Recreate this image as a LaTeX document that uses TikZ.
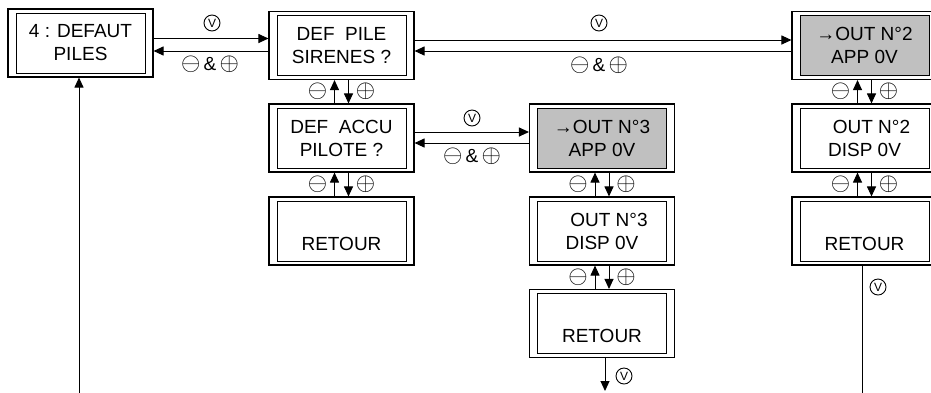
\documentclass[tikz,border=0pt]{standalone}
\usepackage{fontspec}
\setmainfont{Liberation Sans}
\usetikzlibrary{arrows.meta, calc}

\definecolor{panelgray}{RGB}{192,192,192}
\newcommand\panelfont{\fontsize{19}{23}\selectfont}
\newcommand\kminus{{\fontsize{24.88}{25}\selectfont$\ominus$}}
\newcommand\kplus{{\fontsize{24.88}{25}\selectfont$\oplus$}}

\begin{document}
\begin{tikzpicture}[x=1pt, y=-1pt,
    screen/.style={draw, line width=1.1pt, minimum width=145pt, minimum height=68pt, inner sep=0pt, align=center, font=\panelfont,
        path picture={\draw[line width=0.8pt, fill=#1] ([shift={(8pt,-4pt)}]path picture bounding box.north west) rectangle ([shift={(-8pt,4pt)}]path picture bounding box.south east);}},
    screen/.default=white,
    link/.style={draw, line width=1pt, -{Triangle[length=10pt, width=9pt]}},
    sign/.style={inner sep=0pt, font=\fontsize{19}{21}\selectfont},
    keyv/.style={draw, circle, line width=0.9pt, minimum size=16pt, inner sep=0pt, font=\fontsize{12}{12}\selectfont}
]
    \useasboundingbox (0,0) rectangle (931,392);

    % panels
    \node[screen] (a) at (80.5,43) {4 : DEFAUT\\PILES};
    \node[screen] (b) at (341.5,45.5) {DEF\ \ PILE\\SIRENES ?};
    \node[screen=panelgray] (c) at (864.5,45.5) {→OUT N°2\\APP 0V};
    \node[screen] (d) at (341.5,138) {DEF\ \ ACCU\\PILOTE ?};
    \node[screen=panelgray] (e) at (602,138) {→OUT N°3\\APP 0V};
    \node[screen] (i) at (864.5,138) {\hspace*{14pt}OUT N°2\\DISP 0V};
    \node[screen] (f) at (341.5,231) {\strut\\RETOUR};
    \node[screen] (g) at (602,231) {\hspace*{14pt}OUT N°3\\DISP 0V};
    \node[screen] (j) at (864.5,231) {\strut\\RETOUR};
    \node[screen] (h) at (602,323.5) {\strut\\RETOUR};

    % horizontal links
    \draw[link] (a.east |- 0,38.5) -- (b.west |- 0,38.5);
    \draw[link] (b.west |- 0,51) -- (a.east |- 0,51);
    \node[keyv] (ab1) at (212,23) {V};
    \node[sign] (ab2) at (210,64) {\kminus\,\&\,\kplus};

    \draw[link] (b.east |- 0,40) -- (c.west |- 0,40);
    \draw[link] (c.west |- 0,51) -- (b.east |- 0,51);
    \node[keyv] (bc1) at (599,23) {V};
    \node[sign] (bc2) at (599,65) {\kminus\,\&\,\kplus};

    \draw[link] (d.east |- 0,132) -- (e.west |- 0,132);
    \draw[link] (e.west |- 0,143) -- (d.east |- 0,143);
    \node[keyv] (de1) at (472,118) {V};
    \node[sign] (de2) at (472,156) {\kminus\,\&\,\kplus};

    % vertical links
    \foreach \hi/\lo in {b/d, d/f, c/i, i/j, e/g, g/h} {
        \draw[link] ([xshift=-7pt]\lo.north) -- ([xshift=-7pt]\hi.south);
        \draw[link] ([xshift=7pt]\hi.south) -- ([xshift=7pt]\lo.north);
        \node[sign] (m\lo) at ($(\hi.south)!0.5!(\lo.north)+(-24,0)$) {\kminus};
        \node[sign] (p\lo) at ($(\hi.south)!0.5!(\lo.north)+(24,0)$) {\kplus};
    }

    % back to start
    \coordinate (hEnd) at (605,391);
    \draw[link] (h.south -| hEnd) -- (hEnd);
    \node[keyv] (hv) at (624,376) {V};

    \coordinate (loopR) at (862,393);
    \coordinate (loopL) at (79,393);
    \draw[link] (j.south -| loopR) -- (loopR) -- (loopL) -- (a.south -| loopL);
    \node[keyv] (jv) at (878,287) {V};
\end{tikzpicture}
\end{document}
